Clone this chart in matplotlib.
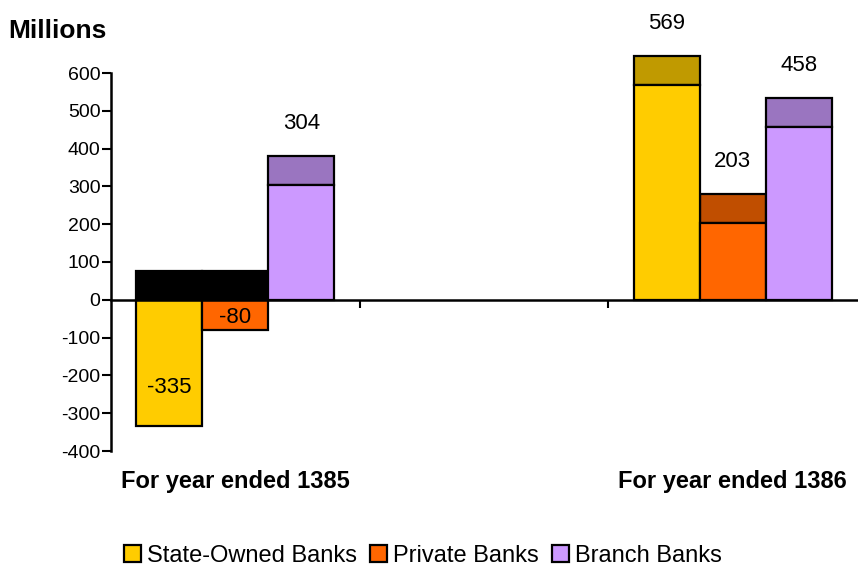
import numpy as np
import matplotlib.pyplot as plt
from matplotlib.patches import Patch

plt.rcParams['font.family'] = ['Liberation Sans', 'DejaVu Sans']
plt.rcParams['axes.unicode_minus'] = False

years = ["For year ended 1385", "For year ended 1386"]
series = ["State-Owned Banks", "Private Banks", "Branch Banks"]
state_owned = [-335, 569]
private = [-80, 203]
branch = [304, 458]

colors = ["#FFCC00", "#FF6600", "#CC99FF"]
top_colors = ["#C09A00", "#C04E00", "#9A75C0"]
depth = 77  # height of the 3D top face, in axis units

fig = plt.figure(figsize=(8.58, 5.69), dpi=100)
ax = fig.add_axes([111 / 858, 118 / 569, 746 / 858, 378 / 569])

x = np.arange(len(years))
width = 0.1327
values = [state_owned, private, branch]

for i, (vals, c, tc) in enumerate(zip(values, colors, top_colors)):
    pos = x + (i - 1) * width
    ax.bar(pos, vals, width, color=c, edgecolor="black", linewidth=1.6,
           clip_on=False, zorder=3)
    for p, v in zip(pos, vals):
        face = tc if v >= 0 else "black"
        base = max(v, 0)
        ax.bar(p, depth, width, bottom=base, color=face, edgecolor="black",
               linewidth=1.6, clip_on=False, zorder=2)
        if v >= 0:
            ly = v + 163
        elif v < -150:
            ly = v + 104
        else:
            ly = v + 34
        ax.text(p, ly, str(v), ha="center", va="center", fontsize=16)

ax.set_xlim(-0.25, 1.25)
ax.set_ylim(-400, 600)
ax.set_yticks(range(-400, 601, 100))
ax.tick_params(axis="y", labelsize=14, width=1.5, length=6.5, pad=1)

ax.spines["top"].set_visible(False)
ax.spines["right"].set_visible(False)
ax.spines["left"].set_linewidth(1.8)
ax.spines["bottom"].set_position(("data", 0))
ax.spines["bottom"].set_linewidth(1.8)
ax.spines["bottom"].set_zorder(4)
ax.set_xticks([0.25, 0.75])
ax.set_xticklabels([])
ax.tick_params(axis="x", direction="out", length=6, width=1.5)

for xi, label in zip(x, years):
    ax.text(xi, -480, label, ha="center", va="center", fontsize=17,
            fontweight="bold")

fig.text(8 / 858, 1 - 31 / 569, "Millions", ha="left", va="center",
         fontsize=19, fontweight="bold")

handles = [Patch(facecolor=c, edgecolor="black", linewidth=1.6) for c in colors]
fig.legend(handles, series, loc="center", bbox_to_anchor=(423 / 858, 1 - 556 / 569),
           ncol=3, frameon=False, fontsize=17, handlelength=0.72,
           handleheight=0.72, handletextpad=0.25, columnspacing=0.55,
           borderpad=0)

fig.savefig("out.png", dpi=100)
